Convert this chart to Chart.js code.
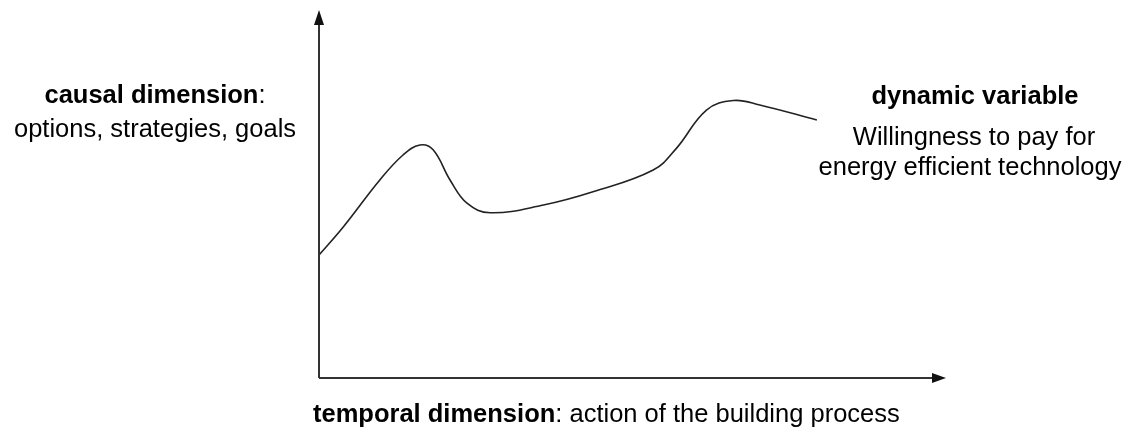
<!DOCTYPE html>
<html>
<head>
<meta charset="utf-8">
<script src="https://cdn.jsdelivr.net/npm/chart.js@4.4.1/dist/chart.umd.min.js"></script>
<style>
  html, body { margin: 0; padding: 0; background: #ffffff; }
  #wrap { width: 1133px; height: 429px; position: relative; }
</style>
</head>
<body>
<div id="wrap"><canvas id="c" width="1133" height="429"></canvas></div>
<script>
// Data (x: progress of the building process, y: willingness to pay)
const timeValues = [0, 3.9, 9.7, 13.4, 16.1, 18.2, 20.9, 23.6, 27.3, 35.8, 43.7, 53.3, 57.0, 61.8, 66.1, 70.3, 79.4];
const wtpValues  = [33.4, 41.1, 53.8, 60.6, 63.3, 62.0, 53.8, 47.5, 44.9, 47.0, 50.6, 56.5, 62.4, 72.8, 75.4, 74.2, 70.1];
const leftLabelBold = 'causal dimension';
const leftLabelRest = ':';
const leftLabelLine2 = 'options, strategies, goals';
const rightTitle = 'dynamic variable';
const rightLines = ['Willingness to pay for', 'energy efficient technology'];
const bottomBold = 'temporal dimension';
const bottomRest = ': action of the building process';

const FONT = '"Liberation Sans", Arial, Helvetica, sans-serif';
const SIZE = 25.5;

const points = timeValues.map((x, i) => ({ x: x, y: wtpValues[i] }));

const decor = {
  id: 'decor',
  afterDraw(chart) {
    const ctx = chart.ctx;
    const xs = chart.scales.x, ys = chart.scales.y;
    const x0 = xs.getPixelForValue(0);
    const y0 = ys.getPixelForValue(0);
    const yTop = ys.getPixelForValue(100);
    const xRight = xs.getPixelForValue(100);
    ctx.save();
    ctx.strokeStyle = '#333';
    ctx.lineWidth = 2;
    ctx.beginPath();
    ctx.moveTo(x0, y0);
    ctx.lineTo(x0, yTop + 12);
    ctx.moveTo(x0, y0);
    ctx.lineTo(xRight - 12, y0);
    ctx.stroke();
    ctx.fillStyle = '#111';
    ctx.beginPath();
    ctx.moveTo(x0, yTop);
    ctx.lineTo(x0 - 5, yTop + 15);
    ctx.lineTo(x0 + 5, yTop + 15);
    ctx.closePath();
    ctx.fill();
    ctx.beginPath();
    ctx.moveTo(xRight, y0);
    ctx.lineTo(xRight - 14, y0 - 5);
    ctx.lineTo(xRight - 14, y0 + 5);
    ctx.closePath();
    ctx.fill();

    ctx.fillStyle = '#000';
    ctx.textBaseline = 'middle';
    function mixed(bold, rest, cx, cy, align) {
      ctx.font = 'bold ' + SIZE + 'px ' + FONT;
      const wb = ctx.measureText(bold).width;
      ctx.font = SIZE + 'px ' + FONT;
      const wr = ctx.measureText(rest).width;
      let start = align === 'left' ? cx : cx - (wb + wr) / 2;
      ctx.textAlign = 'left';
      ctx.font = 'bold ' + SIZE + 'px ' + FONT;
      ctx.fillText(bold, start, cy);
      ctx.font = SIZE + 'px ' + FONT;
      ctx.fillText(rest, start + wb, cy);
    }
    mixed(leftLabelBold, leftLabelRest, 155, 96, 'center');
    ctx.textAlign = 'center';
    ctx.font = SIZE + 'px ' + FONT;
    ctx.fillText(leftLabelLine2, 155, 130);
    ctx.font = 'bold ' + SIZE + 'px ' + FONT;
    ctx.fillText(rightTitle, 975, 97);
    ctx.font = SIZE + 'px ' + FONT;
    ctx.fillText(rightLines[0], 974, 138);
    ctx.fillText(rightLines[1], 970, 168);
    mixed(bottomBold, bottomRest, 313, 415, 'left');
    ctx.restore();
  }
};

new Chart(document.getElementById('c'), {
  type: 'line',
  data: {
    datasets: [{
      data: points,
      borderColor: '#222',
      borderWidth: 1.6,
      pointRadius: 0,
      fill: false,
      tension: 0.4
    }]
  },
  options: {
    responsive: false,
    animation: false,
    layout: { padding: { left: 319, right: 187, top: 10, bottom: 51 } },
    plugins: { legend: { display: false }, tooltip: { enabled: false } },
    scales: {
      x: { type: 'linear', min: 0, max: 100, display: false },
      y: { type: 'linear', min: 0, max: 100, display: false }
    }
  },
  plugins: [decor]
});
</script>
</body>
</html>
